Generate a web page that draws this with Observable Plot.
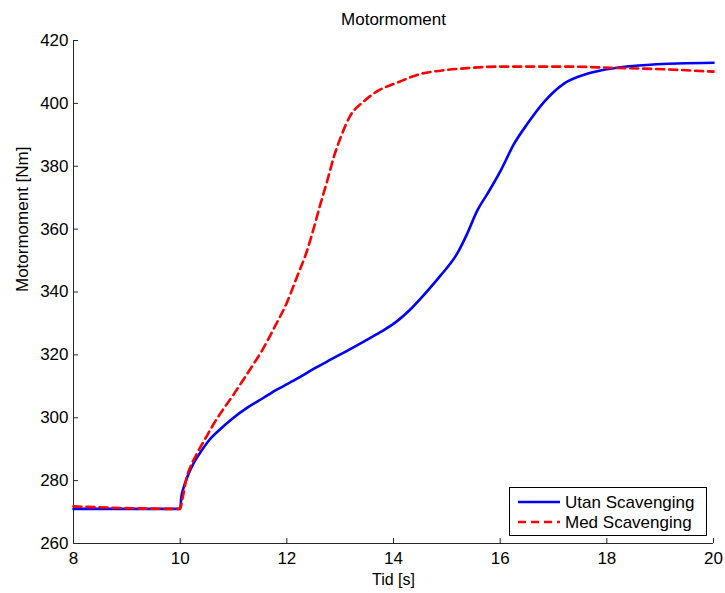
<!DOCTYPE html>
<html>
<head>
<meta charset="utf-8">
<script src="https://cdn.jsdelivr.net/npm/d3@7"></script>
<script src="https://cdn.jsdelivr.net/npm/@observablehq/plot@0.6"></script>
<style>
  html, body { margin: 0; padding: 0; background: #fff; }
  svg { display: block; font-family: "Liberation Sans", Arial, sans-serif; }
</style>
</head>
<body>
<div id="chart"></div>
<script>
const titleText = "Motormoment";
const xLabel = "Tid [s]";
const yLabel = "Motormoment [Nm]";
const seriesNames = ["Utan Scavenging", "Med Scavenging"];

const tUtan = [8, 10, 10.02, 10.06, 10.13, 10.25, 10.38, 10.55, 10.76, 11, 11.26, 11.55, 11.82, 12.2, 12.51, 12.8, 13.13, 13.45, 13.76, 14.05, 14.3, 14.55, 14.88, 15.19, 15.38, 15.57, 15.76, 16.01, 16.26, 16.51, 16.82, 17.19, 17.63, 18.13, 18.82, 20];
const yUtan = [271, 271, 274.5, 277.5, 281, 285.5, 289, 293, 296.5, 300, 303.2, 306.2, 309, 312.5, 315.6, 318.3, 321.3, 324.3, 327.3, 330.5, 334.2, 338.7, 345.2, 352.1, 358.5, 365.9, 371.2, 378.6, 387.1, 393.5, 400.4, 406.2, 409.4, 411.2, 412.3, 412.9];

const tMed = [8, 10, 10.04, 10.13, 10.19, 10.32, 10.51, 10.63, 10.8, 11.01, 11.2, 11.38, 11.54, 11.76, 12.01, 12.19, 12.38, 12.51, 12.63, 12.76, 12.88, 13.01, 13.19, 13.44, 13.69, 14.07, 14.51, 14.88, 15.38, 16.01, 17.26, 18.13, 19.13, 20];
const yMed = [271.8, 271, 274, 281.5, 284.3, 288.8, 294.5, 298.1, 302.5, 307.6, 312.5, 317.2, 321.5, 328.5, 337, 344.8, 353.2, 360.6, 368, 375.5, 382.9, 389.2, 396.1, 400.6, 403.8, 406.6, 409.4, 410.4, 411.2, 411.7, 411.7, 411.3, 410.8, 410.1];

const xTicks = [8, 10, 12, 14, 16, 18, 20];
const yTicks = [260, 280, 300, 320, 340, 360, 380, 400, 420];

const utan = tUtan.map((t, i) => ({t, v: yUtan[i]}));
const med = tMed.map((t, i) => ({t, v: yMed[i]}));

const axisColor = "#262626";
const fs = 17;

const plot = Plot.plot({
  width: 725,
  height: 593,
  marginLeft: 73,
  marginRight: 12,
  marginTop: 40,
  marginBottom: 50,
  style: {fontFamily: "Liberation Sans, Arial, sans-serif", background: "#fff", color: axisColor},
  x: {domain: [8, 20]},
  y: {domain: [260, 420]},
  marks: [
    Plot.ruleY([260], {stroke: axisColor, strokeWidth: 1}),
    Plot.ruleX([8], {stroke: axisColor, strokeWidth: 1}),
    Plot.axisX(xTicks, {tickSize: 0, tickPadding: 8, fontSize: fs, label: null, tickFormat: d => d, color: "#000"}),
    Plot.axisX(xTicks, {tickSize: -5, tickFormat: () => "", label: null, stroke: axisColor}),
    Plot.axisY(yTicks, {tickSize: 0, tickPadding: 5, fontSize: fs, label: null, tickFormat: d => d, color: "#000"}),
    Plot.axisY(yTicks, {tickSize: -5, tickFormat: () => "", label: null, stroke: axisColor}),
    Plot.line(utan, {x: "t", y: "v", stroke: "#0000ff", strokeWidth: 2.6, curve: "monotone-x"}),
    Plot.line(med, {x: "t", y: "v", stroke: "#ff0000", strokeWidth: 2.6, strokeDasharray: "8,5", curve: "monotone-x"}),
    Plot.text([titleText], {frameAnchor: "top", dy: -28, fontSize: fs, fill: "#000"}),
    Plot.text([xLabel], {frameAnchor: "bottom", dy: 41, fontSize: 16, fill: "#000"}),
    Plot.text([yLabel], {frameAnchor: "left", dx: -51, rotate: -90, fontSize: fs, fill: "#000"})
  ]
});

// Legend
const svg = d3.select(plot);
const lg = svg.append("g").attr("class", "legend").attr("text-anchor", "start");
lg.append("rect").attr("x", 509.5).attr("y", 487.5).attr("width", 197).attr("height", 48)
  .attr("fill", "#fff").attr("stroke", "#000").attr("stroke-width", 1);
const rows = [
  {name: seriesNames[0], color: "#0000ff", dash: null, y: 502},
  {name: seriesNames[1], color: "#ff0000", dash: "8,5", y: 522}
];
rows.forEach(r => {
  lg.append("line").attr("x1", 518).attr("x2", 560).attr("y1", r.y).attr("y2", r.y)
    .attr("stroke", r.color).attr("stroke-width", 2.6).attr("stroke-dasharray", r.dash);
  lg.append("text").attr("x", 565).attr("y", r.y).attr("dy", "0.35em")
    .attr("font-size", fs).attr("fill", "#000").attr("text-anchor", "start").text(r.name);
});

document.getElementById("chart").appendChild(plot);
</script>
</body>
</html>
